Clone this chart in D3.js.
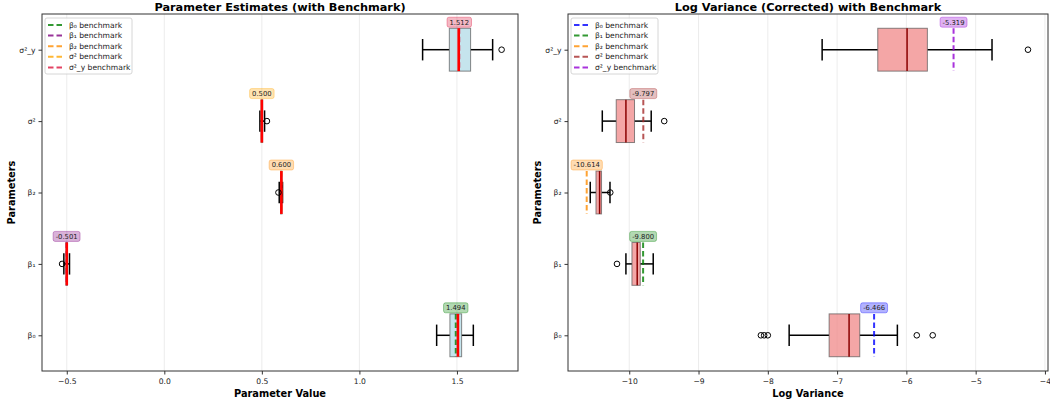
<!DOCTYPE html>
<html>
<head>
<meta charset="utf-8">
<script src="https://d3js.org/d3.v7.min.js"></script>
<style>
  body { margin: 0; background: #fff; }
  text { font-family: "DejaVu Sans", sans-serif; }
</style>
</head>
<body>
<div id="chart"></div>
<script>
  // categories, bottom to top
  const params = ['β₀', 'β₁', 'β₂', 'σ²', 'σ²_y'];

  // left panel: parameter estimates
  const estWhiskerLo = [1.396, -0.515, 0.589, 0.490, 1.324];
  const estQ1        = [1.464, -0.504, 0.596, 0.496, 1.461];
  const estMedian    = [1.505, -0.500, 0.600, 0.500, 1.509];
  const estQ3        = [1.524, -0.497, 0.603, 0.504, 1.570];
  const estWhiskerHi = [1.584, -0.486, 0.606, 0.514, 1.683];
  const estFliers    = [[], [-0.524], [0.585], [0.526], [1.729]];
  const estBench     = [1.494, -0.501, 0.600, 0.500, 1.512];
  const estTicks     = [-0.5, 0.0, 0.5, 1.0, 1.5];

  // right panel: log variance
  const lvWhiskerLo = [-7.692, -10.048, -10.563, -10.389, -7.216];
  const lvQ1        = [-7.115, -9.961, -10.480, -10.188, -6.413];
  const lvMedian    = [-6.827, -9.885, -10.428, -10.048, -5.990];
  const lvQ3        = [-6.673, -9.841, -10.400, -9.924, -5.697];
  const lvWhiskerHi = [-6.130, -9.654, -10.278, -9.683, -4.764];
  const lvFliers    = [[-8.10, -8.053, -8.0, -5.85, -5.62], [-10.177], [-10.274], [-9.495], [-4.245]];
  const lvBench     = [-6.466, -9.800, -10.614, -9.797, -5.319];
  const lvTicks     = [-10, -9, -8, -7, -6, -5, -4];

  const estColors = ['green', 'purple', 'darkorange', 'orange', 'crimson'];
  const lvColors  = ['blue', 'green', 'darkorange', 'brown', 'darkviolet'];

  const W = 1050, H = 404;
  const svg = d3.select('#chart').append('svg')
    .attr('width', W).attr('height', H);

  function fmtTick(v, dec) {
    return d3.format(dec ? '.1f' : 'd')(v).replace('-', '−');
  }

  function panel(opt) {
    const x = d3.scaleLinear().domain(opt.xDomain).range([opt.x0, opt.x1]);
    const y = d3.scaleLinear().domain([0.5, 5.5]).range([opt.y1, opt.y0]);
    const g = svg.append('g');
    const bw = (y(0) - y(0.6)); // box width in px
    const cw = bw / 2;

    // grid
    g.selectAll('.grid').data(opt.ticks).enter().append('line')
      .attr('x1', d => x(d)).attr('x2', d => x(d))
      .attr('y1', opt.y0).attr('y2', opt.y1)
      .style('stroke', '#b0b0b0').style('stroke-opacity', 0.3).style('stroke-width', 0.8);

    params.forEach((p, i) => {
      const cy = y(i + 1);
      // whiskers
      g.append('line').attr('x1', x(opt.wlo[i])).attr('x2', x(opt.q1[i]))
        .attr('y1', cy).attr('y2', cy).style('stroke', '#000').style('stroke-width', 1.5);
      g.append('line').attr('x1', x(opt.q3[i])).attr('x2', x(opt.whi[i]))
        .attr('y1', cy).attr('y2', cy).style('stroke', '#000').style('stroke-width', 1.5);
      // caps
      [opt.wlo[i], opt.whi[i]].forEach(v => {
        g.append('line').attr('x1', x(v)).attr('x2', x(v))
          .attr('y1', cy - cw / 2).attr('y2', cy + cw / 2)
          .style('stroke', '#000').style('stroke-width', 1.5);
      });
      // box
      g.append('rect')
        .attr('x', x(opt.q1[i])).attr('width', Math.max(0, x(opt.q3[i]) - x(opt.q1[i])))
        .attr('y', cy - bw / 2).attr('height', bw)
        .style('fill', opt.boxFill).style('fill-opacity', 0.7)
        .style('stroke', '#555').style('stroke-opacity', 0.7).style('stroke-width', 1);
      // benchmark (over the box, under the median)
      g.append('line').attr('x1', x(opt.bench[i])).attr('x2', x(opt.bench[i]))
        .attr('y1', cy - bw / 2).attr('y2', cy + bw / 2)
        .style('stroke', opt.colors[i]).style('stroke-opacity', 0.8)
        .style('stroke-width', 2).style('stroke-dasharray', '5.5,3');
      // median
      g.append('line').attr('x1', x(opt.med[i])).attr('x2', x(opt.med[i]))
        .attr('y1', cy - bw / 2).attr('y2', cy + bw / 2)
        .style('stroke', opt.medColor).style('stroke-width', opt.medWidth);
      // fliers
      g.selectAll(null).data(opt.fliers[i]).enter().append('circle')
        .attr('cx', d => x(d)).attr('cy', cy).attr('r', 2.8)
        .style('fill', 'none').style('stroke', '#000').style('stroke-width', 1);
      // label
      const lbl = g.append('g').attr('transform', `translate(${x(opt.bench[i])},${cy - 27.5})`);
      const t = lbl.append('text').attr('text-anchor', 'middle').attr('dy', '0.35em')
        .style('font-size', '6.8px').style('fill', '#222')
        .text(opt.bench[i].toFixed(3));
      const bb = t.node().getBBox();
      lbl.insert('rect', 'text')
        .attr('x', bb.x - 2.5).attr('y', -5).attr('width', bb.width + 5).attr('height', 10)
        .attr('rx', 2)
        .style('fill', opt.colors[i]).style('fill-opacity', 0.3)
        .style('stroke', opt.colors[i]).style('stroke-opacity', 0.35).style('stroke-width', 1);
    });

    // frame
    g.append('rect').attr('x', opt.x0).attr('y', opt.y0)
      .attr('width', opt.x1 - opt.x0).attr('height', opt.y1 - opt.y0)
      .style('fill', 'none').style('stroke', '#333').style('stroke-width', 1);

    // x axis
    const xa = g.append('g').attr('transform', `translate(0,${opt.y1})`)
      .call(d3.axisBottom(x).tickValues(opt.ticks).tickSize(3.5).tickFormat(d => fmtTick(d, opt.dec)));
    xa.select('.domain').remove();
    xa.selectAll('text').style('font-size', '7.6px').style('fill', '#222').attr('dy', '0.9em');
    xa.selectAll('line').style('stroke', '#333');

    // y axis
    const ya = g.append('g').attr('transform', `translate(${opt.x0},0)`)
      .call(d3.axisLeft(y).tickValues([1, 2, 3, 4, 5]).tickSize(3.5).tickFormat(d => params[d - 1]));
    ya.select('.domain').remove();
    ya.selectAll('text').style('font-size', '7.6px').style('fill', '#222');
    ya.selectAll('line').style('stroke', '#333');

    // titles
    svg.append('text').attr('x', (opt.x0 + opt.x1) / 2).attr('y', 11)
      .attr('text-anchor', 'middle').style('font-size', '11.3px').style('font-weight', 'bold')
      .text(opt.title);
    svg.append('text').attr('x', (opt.x0 + opt.x1) / 2).attr('y', opt.y1 + 26)
      .attr('text-anchor', 'middle').style('font-size', '9.8px').style('font-weight', 'bold')
      .text(opt.xLabel);
    svg.append('text')
      .attr('transform', `translate(${opt.x0 - 27},${(opt.y0 + opt.y1) / 2}) rotate(-90)`)
      .attr('text-anchor', 'middle').style('font-size', '9.8px').style('font-weight', 'bold')
      .text('Parameters');

    // legend
    const lg = svg.append('g').attr('transform', `translate(${opt.x0 + 3},${opt.y0 + 4})`);
    lg.append('rect').attr('width', opt.legendW).attr('height', 56).attr('rx', 2)
      .style('fill', '#fff').style('fill-opacity', 0.8)
      .style('stroke', '#ccc').style('stroke-width', 0.8);
    params.forEach((p, i) => {
      const ly = 7 + i * 10.6;
      lg.append('line').attr('x1', 3).attr('x2', 18).attr('y1', ly).attr('y2', ly)
        .style('stroke', opt.colors[i]).style('stroke-opacity', 0.8)
        .style('stroke-width', 2).style('stroke-dasharray', '5.5,3');
      lg.append('text').attr('x', 24).attr('y', ly).attr('dy', '0.35em')
        .style('font-size', '7.6px').style('fill', '#222')
        .text(p + ' benchmark');
    });
  }

  panel({
    x0: 42, x1: 518, y0: 14, y1: 371,
    xDomain: [-0.627, 1.813], ticks: estTicks, dec: true,
    wlo: estWhiskerLo, q1: estQ1, med: estMedian, q3: estQ3, whi: estWhiskerHi,
    fliers: estFliers, bench: estBench, colors: estColors,
    boxFill: 'lightblue', medColor: 'red', medWidth: 2.6,
    title: 'Parameter Estimates (with Benchmark)', xLabel: 'Parameter Value',
    legendW: 87
  });

  panel({
    x0: 568, x1: 1048, y0: 14, y1: 371,
    xDomain: [-10.884, -3.956], ticks: lvTicks, dec: false,
    wlo: lvWhiskerLo, q1: lvQ1, med: lvMedian, q3: lvQ3, whi: lvWhiskerHi,
    fliers: lvFliers, bench: lvBench, colors: lvColors,
    boxFill: 'lightcoral', medColor: 'darkred', medWidth: 1.5,
    title: 'Log Variance (Corrected) with Benchmark', xLabel: 'Log Variance',
    legendW: 87
  });
</script>
</body>
</html>
